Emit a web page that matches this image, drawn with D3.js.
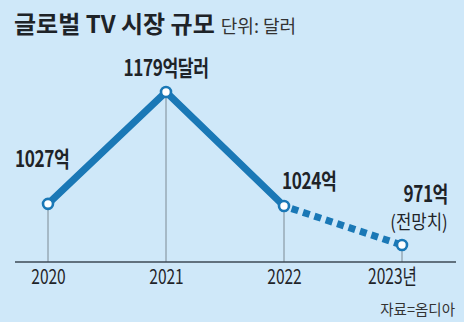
<!DOCTYPE html>
<html>
<head>
<meta charset="utf-8">
<script src="https://cdn.jsdelivr.net/npm/d3@7"></script>
<style>
  html, body { margin: 0; padding: 0; background: #cfe8f9; }
  svg { display: block; }
  text { font-family: "Noto Sans CJK KR", "Noto Sans", sans-serif; }
</style>
</head>
<body>
<svg id="chart" width="464" height="322"></svg>
<script>
// Global TV market size (unit: 100 million USD)
const years = ["2020", "2021", "2022", "2023"];
const tickLabels = ["2020", "2021", "2022", "2023년"];
const values = [1027, 1179, 1024, 971];
const valueLabels = ["1027억", "1179억달러", "1024억", "971억"];
const forecastNote = "(전망치)";

const W = 464, H = 322;
const svg = d3.select("#chart");
const blue = "#1a78b6";
const ink = "#1e2328";

svg.append("rect").attr("width", W).attr("height", H).attr("fill", "#cfe8f9");

// Title
const title = svg.append("text").attr("x", 14).attr("y", 33).attr("fill", ink);
title.append("tspan").attr("font-size", 24).attr("font-weight", 700).text("글로벌 TV 시장 규모");
title.append("tspan").attr("dx", 6).attr("font-size", 18).attr("fill", "#333").text("단위: 달러");

// Scales
const x = d3.scalePoint().domain(years).range([48, 402]);
const y = d3.scaleLinear().domain([948, 1200]).range([262, 76.5]);

// Drop lines from each point to the axis
svg.append("g").selectAll("line").data(years).join("line")
  .attr("x1", d => x(d)).attr("x2", d => x(d))
  .attr("y1", (d, i) => y(values[i])).attr("y2", y(948))
  .attr("stroke", "#7d8a94").attr("stroke-width", 1);

// Baseline axis
const axis = svg.append("g").attr("transform", `translate(0,${y(948)})`)
  .call(d3.axisBottom(x).tickSize(0).tickFormat((d, i) => tickLabels[i]));
axis.select(".domain").remove();
axis.append("line").attr("x1", 15).attr("x2", 456).attr("stroke", "#3d4a55").attr("stroke-width", 1.6);
axis.selectAll(".tick text")
  .attr("fill", ink).attr("font-size", 21).attr("font-family", "Roboto, sans-serif")
  .attr("y", 0).attr("dy", 0)
  .attr("transform", (d, i) => `translate(${i === 3 ? -10 : 0},22) scale(0.74,1)`);

const pts = years.map((d, i) => [x(d), y(values[i])]);
const line = d3.line();

// Actual values (solid) and forecast (dashed)
svg.append("path").attr("d", line(pts.slice(0, 3)))
  .attr("fill", "none").attr("stroke", blue).attr("stroke-width", 7)
  .attr("stroke-linejoin", "miter");
svg.append("path").attr("d", line(pts.slice(2, 4)))
  .attr("fill", "none").attr("stroke", blue).attr("stroke-width", 7)
  .attr("stroke-dasharray", "7 5").attr("stroke-dashoffset", -8);

// Point markers
svg.append("g").selectAll("circle").data(pts).join("circle")
  .attr("cx", d => d[0]).attr("cy", d => d[1]).attr("r", 5)
  .attr("fill", "#fff").attr("stroke", blue).attr("stroke-width", 2.6);

// Value labels
const labelPos = [
  { dx: -33, dy: -37, anchor: "start" },
  { dx: 0, dy: -16, anchor: "middle" },
  { dx: -2, dy: -17, anchor: "start" },
  { dx: 46, dy: -43, anchor: "end" }
];
svg.append("g").selectAll("text").data(valueLabels).join("text")
  .attr("transform", (d, i) => `translate(${pts[i][0] + labelPos[i].dx},${pts[i][1] + labelPos[i].dy}) scale(0.78,1)`)
  .attr("text-anchor", (d, i) => labelPos[i].anchor)
  .attr("font-size", 22).attr("font-weight", 700).attr("fill", ink)
  .attr("letter-spacing", -0.5)
  .text(d => d);

svg.append("text")
  .attr("transform", `translate(${pts[3][0] + 17},${pts[3][1] - 16}) scale(0.88,1)`)
  .attr("text-anchor", "middle").attr("font-size", 19).attr("fill", ink)
  .text(forecastNote);

// Source
svg.append("text").attr("x", 455).attr("y", 315).attr("text-anchor", "end")
  .attr("font-size", 14.5).attr("fill", "#333").text("자료=옴디아");
</script>
</body>
</html>
